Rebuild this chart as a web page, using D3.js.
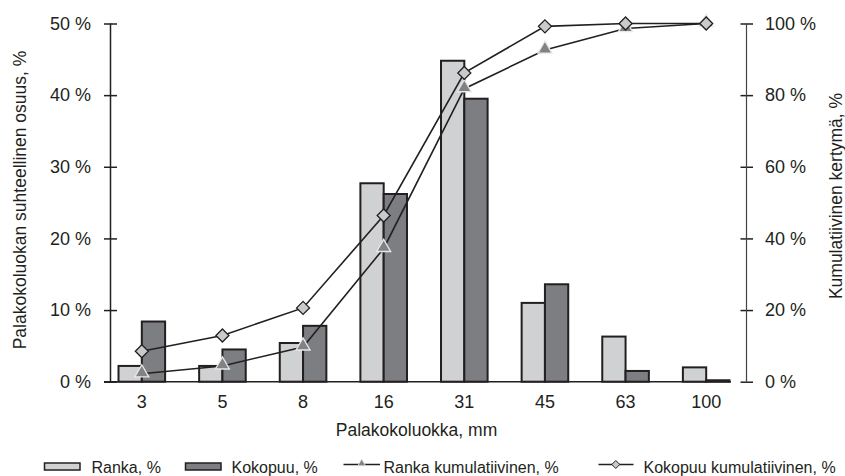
<!DOCTYPE html>
<html>
<head>
<meta charset="utf-8">
<script src="https://cdn.jsdelivr.net/npm/d3@7/dist/d3.min.js"></script>
<style>
  html, body { margin: 0; padding: 0; background: #fff; }
  svg { display: block; font-family: "Liberation Sans", Arial, Helvetica, sans-serif; }
</style>
</head>
<body>
<svg id="chart" width="845" height="476"></svg>
<script>
// ---- data ----
const categories = ["3", "5", "8", "16", "31", "45", "63", "100"];
const rankaPct = [2.2, 2.2, 5.4, 27.7, 44.8, 11.0, 6.3, 2.0];
const kokopuuPct = [8.4, 4.5, 7.8, 26.2, 39.5, 13.6, 1.5, 0.2];
const rankaCum = [2.2, 4.4, 9.7, 37.2, 81.8, 92.6, 98.6, 100];
const kokopuuCum = [8.5, 12.9, 20.6, 46.4, 86.2, 99.2, 100, 100];
const leftTicks = [0, 10, 20, 30, 40, 50];
const rightTicks = [0, 20, 40, 60, 80, 100];
const xTitle = "Palakokoluokka, mm";
const yLeftTitle = "Palakokoluokan suhteellinen osuus, %";
const yRightTitle = "Kumulatiivinen kertymä, %";
const legendLabels = ["Ranka, %", "Kokopuu, %", "Ranka kumulatiivinen, %", "Kokopuu kumulatiivinen, %"];

// ---- styles ----
const ink = "#231f20";
const lightFill = "#d0d1d3";
const darkFill = "#7d7e82";
const triFill = "#808285";
const diaFill = "#c9cacc";

const svg = d3.select("#chart");

const x = d3.scaleBand().domain(categories).range([101.5, 746.5]).padding(0);
const yL = d3.scaleLinear().domain([0, 50]).range([381.7, 23.5]);
const yR = d3.scaleLinear().domain([0, 100]).range([381.7, 23.5]);
const sub = d3.scaleBand().domain(["ranka", "kokopuu"]).range([-23.3, 23.3]);
const cx = c => x(c) + x.bandwidth() / 2;

const axisLeftX = 110.5, axisRightX = 746.5;

// bars
const barG = svg.append("g");
const barData = [];
categories.forEach((c, i) => {
  barData.push({ c, key: "ranka", v: rankaPct[i], fill: lightFill });
  barData.push({ c, key: "kokopuu", v: kokopuuPct[i], fill: darkFill });
});
barG.selectAll("rect").data(barData).join("rect")
  .attr("x", d => cx(d.c) + sub(d.key))
  .attr("y", d => yL(d.v))
  .attr("width", sub.bandwidth())
  .attr("height", d => yL(0) - yL(d.v))
  .attr("fill", d => d.fill)
  .attr("stroke", ink)
  .attr("stroke-width", 2);

// baseline
svg.append("line")
  .attr("x1", 104).attr("x2", 731)
  .attr("y1", yL(0)).attr("y2", yL(0))
  .attr("stroke", ink).attr("stroke-width", 1.5);

// left axis
const leftAxis = d3.axisLeft(yL).tickValues(leftTicks).tickFormat(d => d + " %").tickSize(6.5).tickPadding(13);
const gl = svg.append("g").attr("transform", `translate(${axisLeftX},0)`).call(leftAxis);
gl.select(".domain").remove();
gl.append("line").attr("x1", 0).attr("x2", 0).attr("y1", yL(50)).attr("y2", yL(0)).attr("stroke", ink).attr("stroke-width", 1.5);
gl.selectAll(".tick line").attr("x1", 6.5).attr("x2", -6.5).attr("stroke", ink).attr("stroke-width", 1.5);
gl.selectAll(".tick text").attr("font-size", 18).attr("fill", ink).attr("font-family", null);

// right axis
const rightAxis = d3.axisRight(yR).tickValues(rightTicks).tickFormat(d => d + " %").tickSize(6.5).tickPadding(12);
const gr = svg.append("g").attr("transform", `translate(${axisRightX},0)`).call(rightAxis);
gr.select(".domain").remove();
gr.append("line").attr("x1", 0).attr("x2", 0).attr("y1", yR(100)).attr("y2", yR(0)).attr("stroke", "#444").attr("stroke-width", 1.2);
gr.selectAll(".tick line").attr("x1", -6).attr("x2", 6.5).attr("stroke", ink).attr("stroke-width", 1.5);
gr.selectAll(".tick text").attr("font-size", 18).attr("fill", ink).attr("font-family", null);

// x axis labels
const bottomAxis = d3.axisBottom(x).tickSize(0).tickPadding(14);
const gb = svg.append("g").attr("transform", `translate(0,${yL(0)})`).call(bottomAxis);
gb.select(".domain").remove();
gb.selectAll(".tick text").attr("font-size", 18).attr("fill", ink).attr("font-family", null);

// titles
svg.append("text").attr("x", 416.5).attr("y", 436).attr("text-anchor", "middle")
  .attr("font-size", 17.5).attr("fill", ink).text(xTitle);
svg.append("text").attr("transform", "translate(26,200) rotate(-90)").attr("text-anchor", "middle")
  .attr("font-size", 17.5).attr("fill", ink).text(yLeftTitle);
svg.append("text").attr("transform", "translate(842,196) rotate(-90)").attr("text-anchor", "middle")
  .attr("font-size", 17.5).attr("fill", ink).text(yRightTitle);

// cumulative lines
const line = d3.line().x(d => cx(d.c)).y(d => yR(d.v));
const rankaPts = categories.map((c, i) => ({ c, v: rankaCum[i] }));
const kokoPts = categories.map((c, i) => ({ c, v: kokopuuCum[i] }));

const triangle = d3.symbol().type(d3.symbolTriangle).size(85);
const diamond = "M0,-6.5L6.5,0L0,6.5L-6.5,0Z";

svg.append("path").datum(rankaPts).attr("d", line).attr("fill", "none").attr("stroke", ink).attr("stroke-width", 1.6);
svg.append("g").selectAll("path").data(rankaPts).join("path")
  .attr("transform", d => `translate(${cx(d.c)},${yR(d.v) - 1})`)
  .attr("d", triangle()).attr("fill", triFill).attr("stroke", "#e8e8e8").attr("stroke-width", 1.3);

svg.append("path").datum(kokoPts).attr("d", line).attr("fill", "none").attr("stroke", ink).attr("stroke-width", 1.6);
svg.append("g").selectAll("path").data(kokoPts).join("path")
  .attr("transform", d => `translate(${cx(d.c)},${yR(d.v)})`)
  .attr("d", diamond).attr("fill", diaFill).attr("stroke", ink).attr("stroke-width", 1.3);

// legend
const lg = svg.append("g").attr("font-size", 16).attr("fill", ink);
const ly = 466.5;
lg.append("rect").attr("x", 44.5).attr("y", 463).attr("width", 35.5).attr("height", 7).attr("fill", lightFill).attr("stroke", ink).attr("stroke-width", 1.5);
lg.append("text").attr("x", 91.5).attr("y", 472.5).text(legendLabels[0]);
lg.append("rect").attr("x", 185.5).attr("y", 463).attr("width", 35.5).attr("height", 7).attr("fill", darkFill).attr("stroke", ink).attr("stroke-width", 1.5);
lg.append("text").attr("x", 231.5).attr("y", 472.5).text(legendLabels[1]);
lg.append("line").attr("x1", 343.5).attr("x2", 380).attr("y1", ly - 2).attr("y2", ly - 2).attr("stroke", ink).attr("stroke-width", 1.5);
lg.append("path").attr("transform", `translate(361.7,${ly - 3})`).attr("d", d3.symbol().type(d3.symbolTriangle).size(26)()).attr("fill", triFill).attr("stroke", "#e8e8e8").attr("stroke-width", 0.8);
lg.append("text").attr("x", 383.5).attr("y", 472.5).text(legendLabels[2]);
lg.append("line").attr("x1", 598.5).attr("x2", 633.5).attr("y1", ly - 2).attr("y2", ly - 2).attr("stroke", ink).attr("stroke-width", 1.5);
lg.append("path").attr("transform", `translate(615.8,${ly - 2})`).attr("d", "M0,-4L4,0L0,4L-4,0Z").attr("fill", diaFill).attr("stroke", ink).attr("stroke-width", 1);
lg.append("text").attr("x", 643.5).attr("y", 472.5).text(legendLabels[3]);
</script>
</body>
</html>
